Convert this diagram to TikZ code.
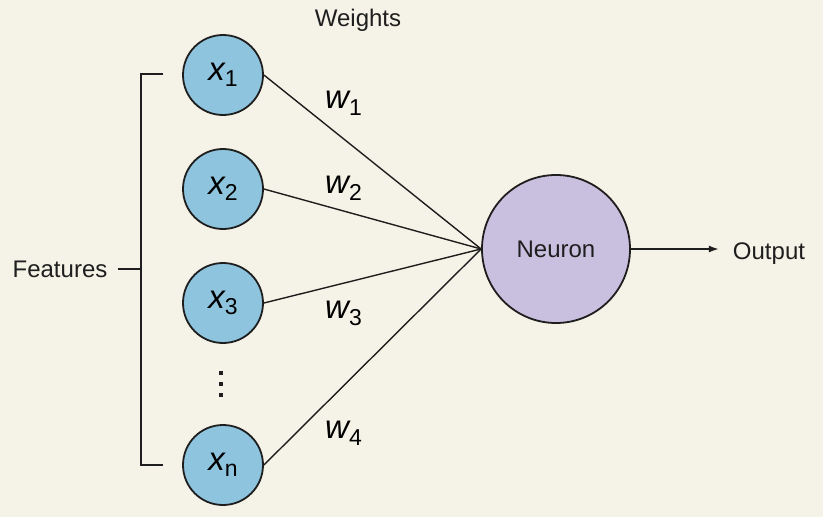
\documentclass[tikz,border=0pt]{standalone}
\usepackage{fontspec}
\setmainfont{Liberation Sans}
\usetikzlibrary{positioning,arrows.meta}
\definecolor{paper}{HTML}{F5F3E7}
\definecolor{featblue}{HTML}{8EC4DE}
\definecolor{neuronlilac}{HTML}{C9C0DF}
\definecolor{ink}{HTML}{1E1E1E}
\newcommand{\feat}[1]{\fontsize{33}{33}\selectfont\itshape x\raisebox{-6pt}{\fontsize{23}{23}\selectfont\upshape #1}}
\newcommand{\wgt}[1]{\fontsize{33}{33}\selectfont\itshape w\raisebox{-7pt}{\fontsize{23}{23}\selectfont\upshape #1}}
\tikzset{
  input/.style={draw=ink, circle, fill=featblue, line width=1.8pt, minimum size=80pt, inner sep=0pt},
  neuron/.style={draw=ink, circle, fill=neuronlilac, line width=1.8pt, minimum size=148pt, inner sep=0pt},
  lbl/.style={font=\fontsize{24}{24}\selectfont, text=ink},
  link/.style={draw=ink, line width=1.4pt}
}
\begin{document}
\begin{tikzpicture}[x=1pt, y=-1pt, node distance=114pt]
\fill[paper] (0,0) rectangle (823,517);
\useasboundingbox (0,0) rectangle (823,517);
% inputs
\node[input] (1) at (223,75) {\feat{1}};
\node[input] (2) [below of = 1] {\feat{2}};
\node[input] (3) [below of = 2] {\feat{3}};
\node[input] (4) at (223,465) {\feat{n}};
\foreach \y in {373,384,395}
  \fill[ink] (219,\y-2) rectangle +(4,4);
% neuron and output
\node[neuron, lbl] (5) at (556,249) {Neuron};
\node[lbl, inner sep=14pt] (6) at (769,254) {Output};
% labels
\node[lbl, anchor=base] (weights) at (358,26) {Weights};
\node[lbl, inner sep=10pt] (feat) at (60,269) {Features};
\node[anchor=base west, inner sep=0pt] (w1) at (325,108) {\wgt{1}};
\node[anchor=base west, inner sep=0pt] (w2) at (325,193) {\wgt{2}};
\node[anchor=base west, inner sep=0pt] (w3) at (325,318) {\wgt{3}};
\node[anchor=base west, inner sep=0pt] (w4) at (325,438) {\wgt{4}};
% bracket
\coordinate (top) at (163,74);
\coordinate (bot) at (163,465);
\coordinate (mid) at (141,269);
\draw[ink, line width=1.5pt] (top) -- (141,74) -- (141,465) -- (bot);
\draw[ink, line width=1.5pt] (feat) -- (mid);
\path
(1.east) edge[link] (5.west)
(2.east) edge[link] (5.west)
(3.east) edge[link] (5.west)
(4.east) edge[link] (5.west);
\draw[ink, line width=1.4pt, -{Latex[length=10pt, width=7pt]}] (5.east) -- (6.west |- 5.east);
\end{tikzpicture}
\end{document}
